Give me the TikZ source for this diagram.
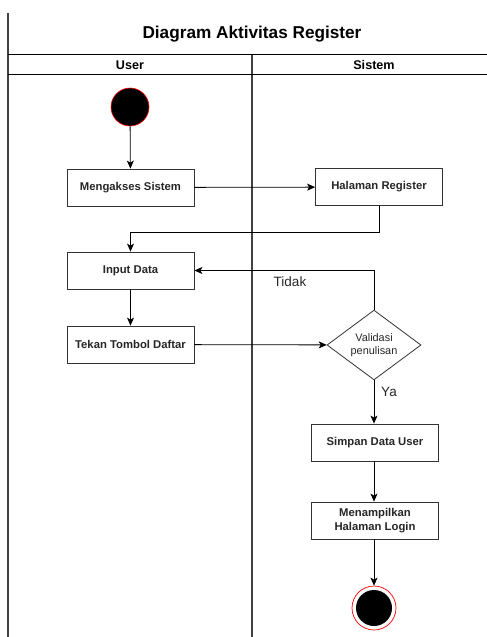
\documentclass[tikz,border=0pt]{standalone}
\usepackage{fontspec}
\setmainfont{Liberation Sans}
\usetikzlibrary{arrows.meta,shapes.geometric}
\begin{document}
\begin{tikzpicture}[x=1pt,y=-1pt,
  lane/.style={draw=black!75,line width=1.1pt},
  hline/.style={draw=black,line width=0.9pt},
  act/.style={draw=black!80,line width=0.8pt,minimum width=127pt,minimum height=37pt,
    inner sep=1pt,align=center,font=\bfseries\fontsize{11.3}{14}\selectfont,text=black!85},
  flow/.style={draw=black,line width=0.8pt,-{Stealth[length=8pt,width=7pt,inset=2pt]}},
  lbl/.style={font=\fontsize{13.5}{16}\selectfont,text=black!85}]
\useasboundingbox (0,0) rectangle (487,637);
% frame and swimlanes
\draw[lane] (8,13) -- (8,637);
\draw[lane] (252,54) -- (252,637);
\draw[hline] (8,54) -- (487,54);
\draw[hline] (8,74) -- (487,74);
\node[font=\bfseries\fontsize{17.2}{20}\selectfont] (title) at (252,34) {Diagram Aktivitas Register};
\node[font=\bfseries\fontsize{12.6}{15}\selectfont] (huser) at (130,65) {User};
\node[font=\bfseries\fontsize{12.6}{15}\selectfont] (hsys) at (374,65) {Sistem};
% start and end
\node[circle,fill=black,draw=red,line width=0.6pt,minimum size=38pt,inner sep=0] (start) at (130,107) {};
\node[circle,draw=red,line width=0.7pt,minimum size=44pt,inner sep=0] (endo) at (374,608) {};
\node[circle,fill=black,minimum size=36pt,inner sep=0] (endi) at (374,608) {};
% activities
\node[act] (akses) at (130.5,187.5) {Mengakses Sistem};
\node[act] (halreg) at (379,187) {Halaman Register};
\node[act] (input) at (130.5,270.5) {Input Data};
\node[act] (tekan) at (130.5,344.5) {Tekan Tombol Daftar};
\node[diamond,draw=black!80,line width=0.8pt,minimum width=94pt,minimum height=64pt,inner sep=0,
  align=center,font=\fontsize{10.9}{13}\selectfont,text=black!85] (valid) at (374,345) {Validasi\\penulisan};
\node[act] (simpan) at (375,442.5) {Simpan Data User};
\node[act] (login) at (375,520.5) {Menampilkan\\Halaman Login};
% flows
\draw[flow] (start) -- (akses);
\draw[flow] (akses) -- (halreg);
\draw[flow] (halreg.south) -- ++(0,26) -| (input.north);
\draw[flow] (input) -- (tekan);
\draw[flow] (tekan) -- (valid);
\draw[flow] (valid.north) |- (input.east);
\node[lbl] (tidak) at (290,282) {Tidak};
\draw[flow] (valid.south) -- (simpan.north -| valid.south);
\node[lbl] (ya) at (389,392) {Ya};
\draw[flow] (simpan.south -| valid.south) -- (login.north -| valid.south);
\draw[flow] (login.south -| valid.south) -- (endo.north);
\end{tikzpicture}
\end{document}
